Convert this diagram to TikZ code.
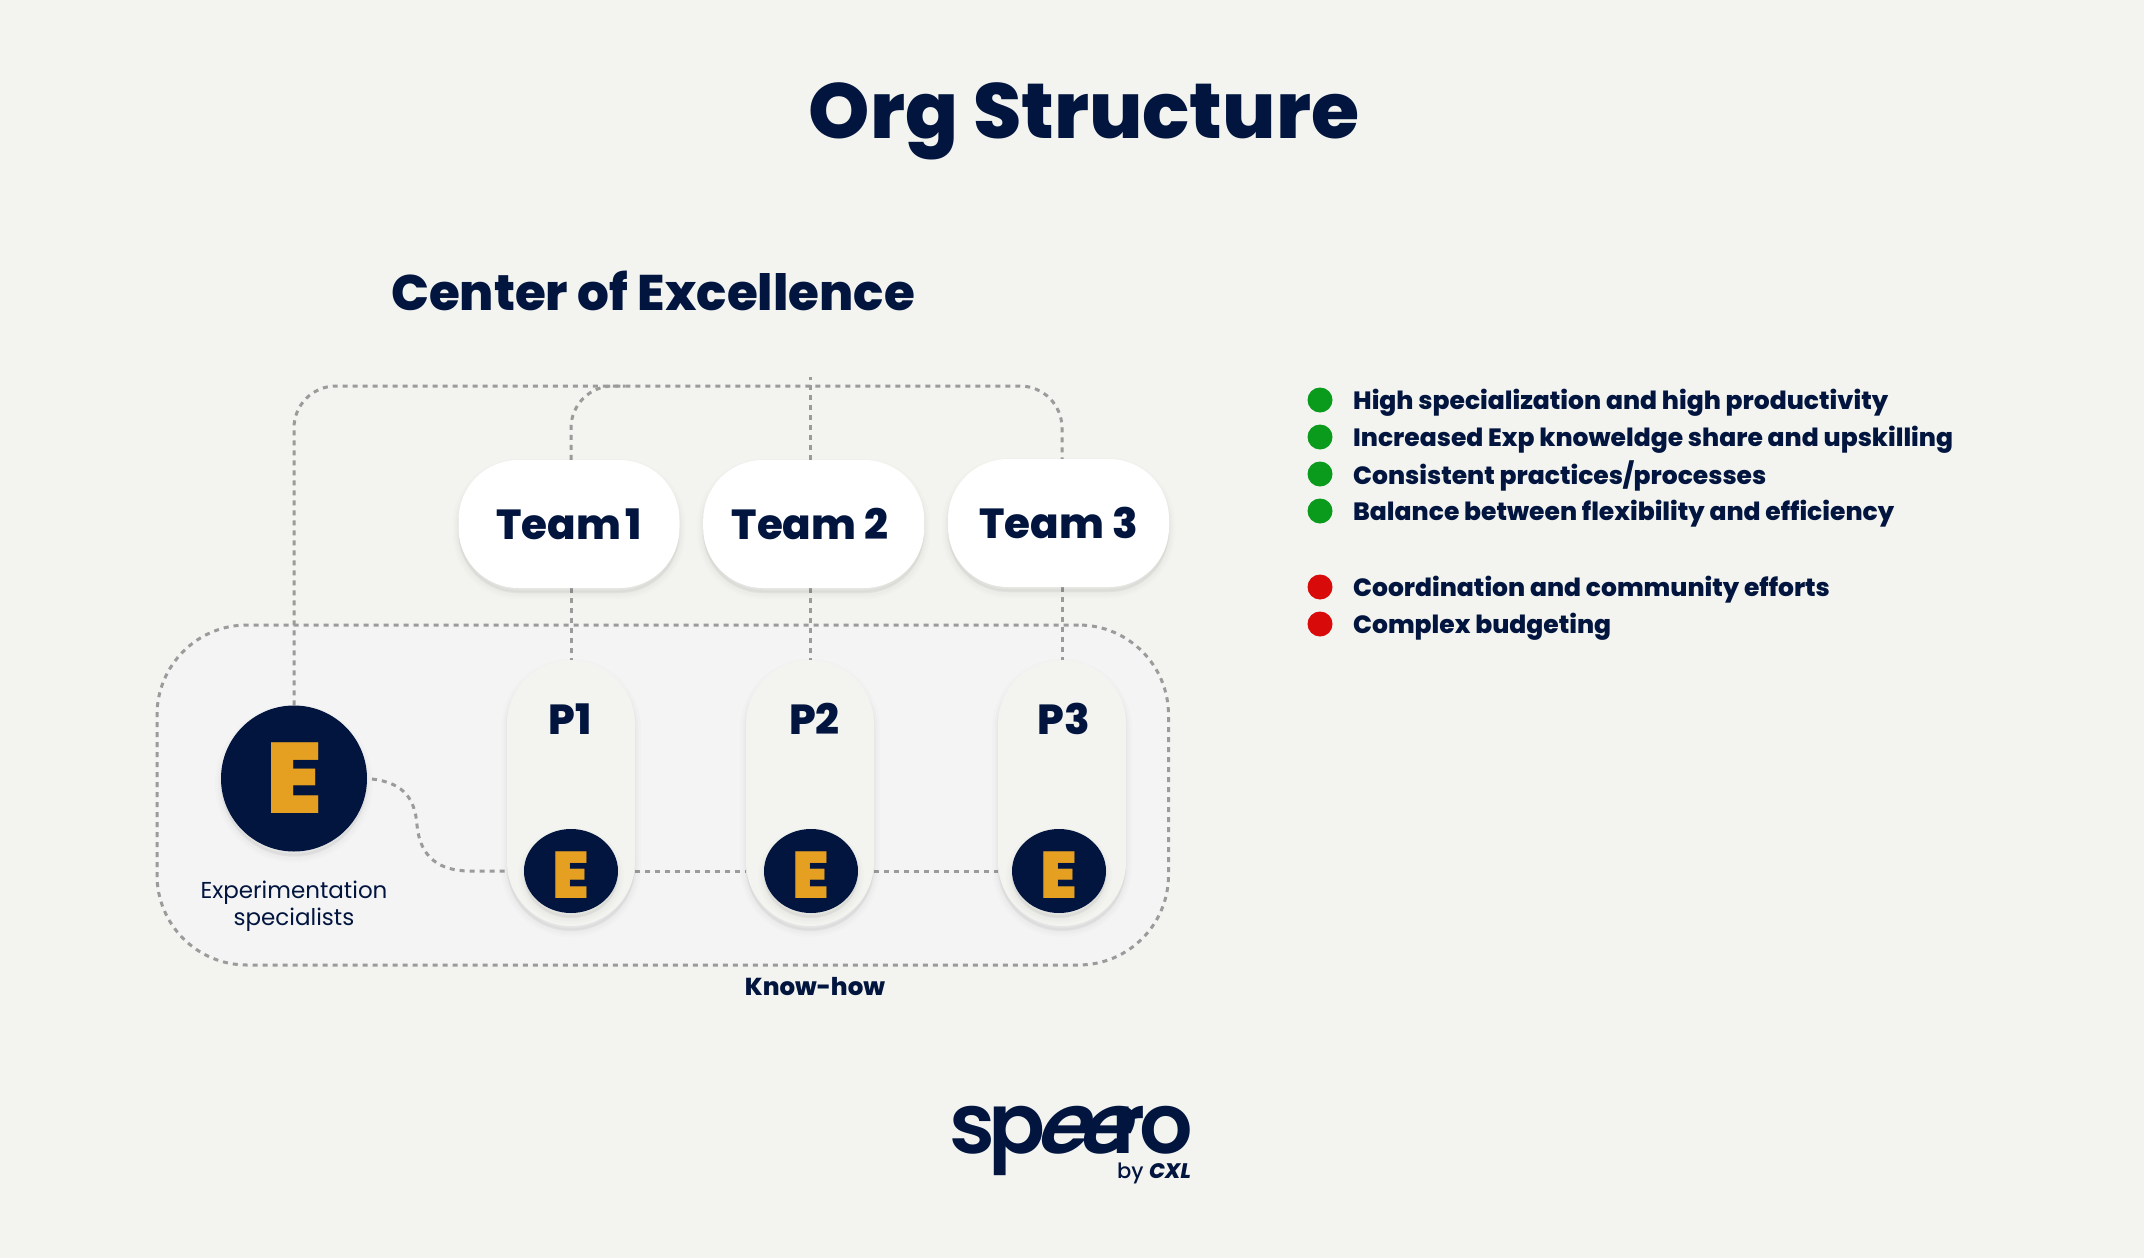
\documentclass[tikz,border=0pt]{standalone}
\usepackage{fontspec}
\setmainfont{Poppins}
\newfontfamily\popx{Poppins ExtraBold}
\newfontfamily\popb{Poppins Bold}
\newfontfamily\popk{Poppins Black}
\newfontfamily\popm{Poppins Medium}
\newfontfamily\popr{Poppins}
\newfontfamily\popsb[LetterSpace=-8]{Poppins SemiBold}
\newfontfamily\popsl[FakeSlant=0.4]{Poppins SemiBold}
\usetikzlibrary{shapes.geometric}
\pgfdeclarelayer{back}\pgfdeclarelayer{conn}
\pgfsetlayers{back,conn,main}
\definecolor{bgc}{HTML}{F3F4F0}
\definecolor{boxc}{HTML}{F4F4F5}
\definecolor{navy}{HTML}{02153F}
\definecolor{amber}{HTML}{E59F21}
\definecolor{linec}{HTML}{9B9B9B}
\definecolor{okc}{HTML}{0A9A1C}
\definecolor{badc}{HTML}{D80A0A}
\tikzset{
  softshadow/.style={
    preaction={draw=black,fill=black,draw opacity=.012,fill opacity=.012,line width=12pt,transform canvas={yshift=-5pt}},
    preaction={draw=black,fill=black,draw opacity=.016,fill opacity=.016,line width=7pt,transform canvas={yshift=-5pt}},
    preaction={draw=black,fill=black,draw opacity=.02,fill opacity=.02,line width=3pt,transform canvas={yshift=-4pt}}},
  dots/.style={draw=linec,line width=3pt,dash pattern=on 5pt off 5pt},
  teambox/.style={rectangle,rounded corners=60pt,fill=white,minimum width=221pt,minimum height=128pt,inner sep=0pt,softshadow,text=navy,font=\popx\fontsize{42}{50}\selectfont},
  pill/.style={rectangle,rounded corners=63.9pt,fill=bgc,minimum width=128pt,minimum height=266pt,inner sep=0pt,softshadow},
  bigdisc/.style={circle,fill=navy,minimum size=146pt,inner sep=0pt,softshadow},
  smalldisc/.style={ellipse,fill=navy,inner sep=0pt,softshadow},
  plabel/.style={text=navy,inner sep=0pt,font=\popx\fontsize{42}{48}\selectfont},
  elabelbig/.style={text=amber,inner sep=0pt,font=\popk\fontsize{100}{110}\selectfont},
  elabel/.style={text=amber,inner sep=0pt,font=\popk\fontsize{66}{75}\selectfont},
  bullet/.style={circle,minimum size=25pt,inner sep=0pt},
  item/.style={anchor=west,text=navy,inner sep=0pt,font=\popx\fontsize{25}{32}\selectfont},
}
\begin{document}
\begin{tikzpicture}[x=1pt,y=-1pt]
\useasboundingbox (0,0) rectangle (2144,1258);
\begin{pgfonlayer}{back}
\fill[bgc] (0,0) rectangle (2144,1258);
\node[rectangle,rounded corners=90pt,fill=boxc,minimum width=1011.5pt,minimum height=340pt,inner sep=0pt,anchor=center] (know) at (662.75,795) {};
\node[dots,rectangle,rounded corners=90pt,minimum width=1011.5pt,minimum height=340pt,inner sep=0pt] (knowline) at (662.75,795) {};
\end{pgfonlayer}
\node[text=navy,inner sep=0pt,font=\popx\fontsize{78}{90}\selectfont] (title) at (1084,121) {Org Structure};
\node[text=navy,inner sep=0pt,font=\popx\fontsize{50}{60}\selectfont] (coe) at (653,291) {Center of Excellence};

\node[teambox] (t1) at (569,524) {Team\kern-4pt\ 1};
\node[teambox] (t2) at (813.7,524) {};
\node[teambox,text=navy] (t3) at (1058.5,523) {Team 3};
\node[text=navy,inner sep=0pt,font=\popx\fontsize{42}{50}\selectfont] (t2l) at (810,524) {Team 2};

\node[pill] (p1) at (571,793) {};
\node[pill] (p2) at (810,793) {};
\node[pill] (p3) at (1062,793) {};

\node[plabel] (p1t) at (570,719) {P1};
\node[plabel] (p2t) at (814.5,719) {P2};
\node[plabel] (p3t) at (1064,719) {P3};

\node[bigdisc] (bige) at (294,778.5) {};
\node[elabelbig] (bigel) at (294,778.5) {E};
\node[smalldisc,minimum width=94pt,minimum height=84pt] (e1) at (571,871) {};
\node[smalldisc,minimum width=94pt,minimum height=84pt] (e2) at (811,871) {};
\node[smalldisc,minimum width=94pt,minimum height=84pt] (e3) at (1059,871) {};
\node[elabel] (e1l) at (571,875) {E};
\node[elabel] (e2l) at (811,875) {E};
\node[elabel] (e3l) at (1059,875) {E};

\coordinate (joint) at (625,386);
\coordinate (topmid) at (811,386);
\coordinate (stem) at (810,377);
\coordinate (c1) at (417,825);
\coordinate (bigstart) at (372,779);

\begin{pgfonlayer}{conn}
\draw[dots,rounded corners=42pt] (bige.north) |- (joint);
\draw[dots,rounded corners=42pt] (p1.north |- t1.north) |- (topmid) -| (p3.north |- t3.north);
\draw[dots] (t2.north -| p2.north) -- (stem);
\draw[dots] (p1.north |- t1.south) -- (p1.north);
\draw[dots] (p2.north |- t2.south) -- (p2.north);
\draw[dots] (p3.north |- t3.south) -- (p3.north);
\draw[dots] (bigstart) .. controls (405,783) and (415,800) .. (c1) .. controls (420,858) and (440,871) .. (470,871) -- (p1.west |- e1);
\draw[dots] (p1.east |- e1) -- (p2.west |- e1);
\draw[dots] (p2.east |- e1) -- (p3.west |- e1);
\end{pgfonlayer}

\node[text=navy,align=center,inner sep=0pt,font=\popr\fontsize{23}{27.5}\selectfont] (spec) at (294,906) {Experimentation\\specialists};
\node[text=navy,inner sep=0pt,font=\popx\fontsize{24.5}{30}\selectfont] (kh) at (815,987) {Know-how};

\node[bullet,fill=okc] (b1) at (1320,400) {};
\node[bullet,fill=okc] (b2) at (1320,437) {};
\node[bullet,fill=okc] (b3) at (1320,474) {};
\node[bullet,fill=okc] (b4) at (1320,511) {};
\node[bullet,fill=badc] (b5) at (1320,587) {};
\node[bullet,fill=badc] (b6) at (1320,624) {};
\node[item] (i1) at (1353,402.5) {High specialization and high productivity};
\node[item] (i2) at (1353,439.5) {Increased Exp knoweldge share and upskilling};
\node[item] (i3) at (1353,476) {Consistent practices/processes};
\node[item] (i4) at (1353,513.5) {Balance between flexibility and efficiency};
\node[item] (i5) at (1353,589.5) {Coordination and community efforts};
\node[item] (i6) at (1353,626.5) {Complex budgeting};

\node[text=navy,inner sep=0pt,anchor=base west,font=\popsb\fontsize{84}{90}\selectfont] (logo) at (949,1153) {sp\kern-13pt{\popsl e\kern-10pt e}\kern-14pt ro};
\node[text=navy,inner sep=0pt,anchor=base east,font=\popm\fontsize{21}{25}\selectfont] (by) at (1191,1178) {by {\popx\itshape CXL}};
\end{tikzpicture}
\end{document}
